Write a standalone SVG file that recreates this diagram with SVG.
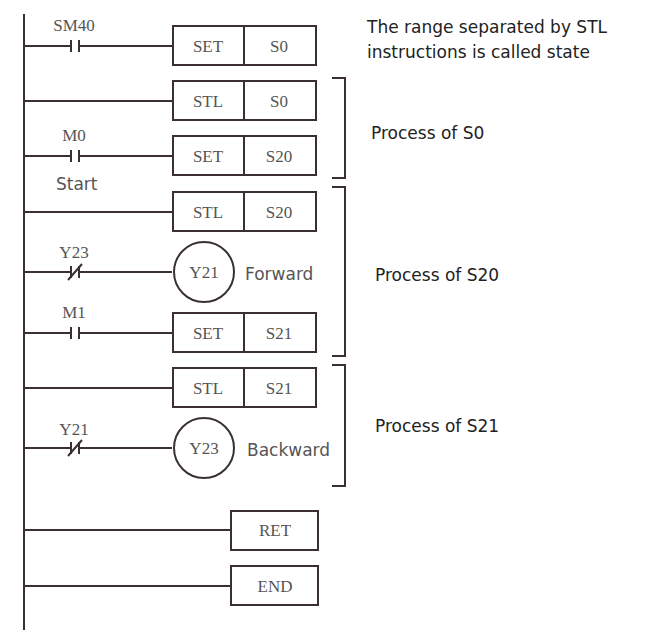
<svg xmlns="http://www.w3.org/2000/svg" width="652" height="634" viewBox="0 0 652 634">
<style>
.l{stroke:#3a3030;stroke-width:2;fill:none}
.b{stroke:#3a3030;stroke-width:2;fill:#fff}
.s{font-family:"Liberation Serif",serif;font-size:17px;fill:#555;text-anchor:middle}
.t{font-family:"DejaVu Sans",sans-serif;font-size:17px;fill:#222}
.g{font-family:"DejaVu Sans",sans-serif;font-size:17px;fill:#555}
</style>
<rect width="652" height="634" fill="#fff"/>
<g id="connectors">
<line class="l" x1="24" y1="14" x2="24" y2="630"/>
<path class="l" d="M24 46H71M79 46H173M71 40v12M79 40v12"/>
<path class="l" d="M24 101H173"/>
<path class="l" d="M24 156H71M79 156H173M71 150v12M79 150v12"/>
<path class="l" d="M24 212H173"/>
<path class="l" d="M24 272H71M79 272H172M71 266v12M79 266v12M68 280L82 264"/>
<path class="l" d="M24 333H71M79 333H173M71 327v12M79 327v12"/>
<path class="l" d="M24 388H173"/>
<path class="l" d="M24 448H71M79 448H172M71 442v12M79 442v12M68 456L82 440"/>
<path class="l" d="M24 530H231M24 586H231"/>
<path class="l" d="M332 78H345V178H332M332 187H345V356H332M332 365H345V486H332"/>
</g>
<g id="n1"><rect class="b" x="173" y="26" width="143" height="39"/><line class="l" x1="244" y1="26" x2="244" y2="65"/><text class="s" x="208" y="52">SET</text><text class="s" x="279" y="52">S0</text><text class="s" x="74" y="31">SM40</text></g>
<g id="n2"><rect class="b" x="173" y="81" width="143" height="39"/><line class="l" x1="244" y1="81" x2="244" y2="120"/><text class="s" x="208" y="107">STL</text><text class="s" x="279" y="107">S0</text></g>
<g id="n3"><rect class="b" x="173" y="136" width="143" height="39"/><line class="l" x1="244" y1="136" x2="244" y2="175"/><text class="s" x="208" y="162">SET</text><text class="s" x="279" y="162">S20</text><text class="s" x="74" y="141">M0</text><text class="g" x="56" y="190">Start</text></g>
<g id="n4"><rect class="b" x="173" y="192" width="143" height="39"/><line class="l" x1="244" y1="192" x2="244" y2="231"/><text class="s" x="208" y="218">STL</text><text class="s" x="279" y="218">S20</text></g>
<g id="n5"><circle class="b" cx="204" cy="272" r="30"/><text class="s" x="204" y="278">Y21</text><text class="g" x="245" y="280">Forward</text><text class="s" x="74" y="258">Y23</text></g>
<g id="n6"><rect class="b" x="173" y="313" width="143" height="39"/><line class="l" x1="244" y1="313" x2="244" y2="352"/><text class="s" x="208" y="339">SET</text><text class="s" x="279" y="339">S21</text><text class="s" x="74" y="318">M1</text></g>
<g id="n7"><rect class="b" x="173" y="368" width="143" height="39"/><line class="l" x1="244" y1="368" x2="244" y2="407"/><text class="s" x="208" y="394">STL</text><text class="s" x="279" y="394">S21</text></g>
<g id="n8"><circle class="b" cx="204" cy="448" r="30"/><text class="s" x="204" y="454">Y23</text><text class="g" x="247" y="456">Backward</text><text class="s" x="74" y="435">Y21</text></g>
<g id="n9"><rect class="b" x="231" y="511" width="87" height="39"/><text class="s" x="275" y="536">RET</text></g>
<g id="n10"><rect class="b" x="231" y="566" width="87" height="39"/><text class="s" x="275" y="592">END</text></g>
<g id="labels">
<text class="t" x="367" y="33">The range separated by STL</text>
<text class="t" x="367" y="58">instructions is called state</text>
<text class="t" x="371" y="139">Process of S0</text>
<text class="t" x="375" y="281">Process of S20</text>
<text class="t" x="375" y="432">Process of S21</text>
</g>
</svg>
